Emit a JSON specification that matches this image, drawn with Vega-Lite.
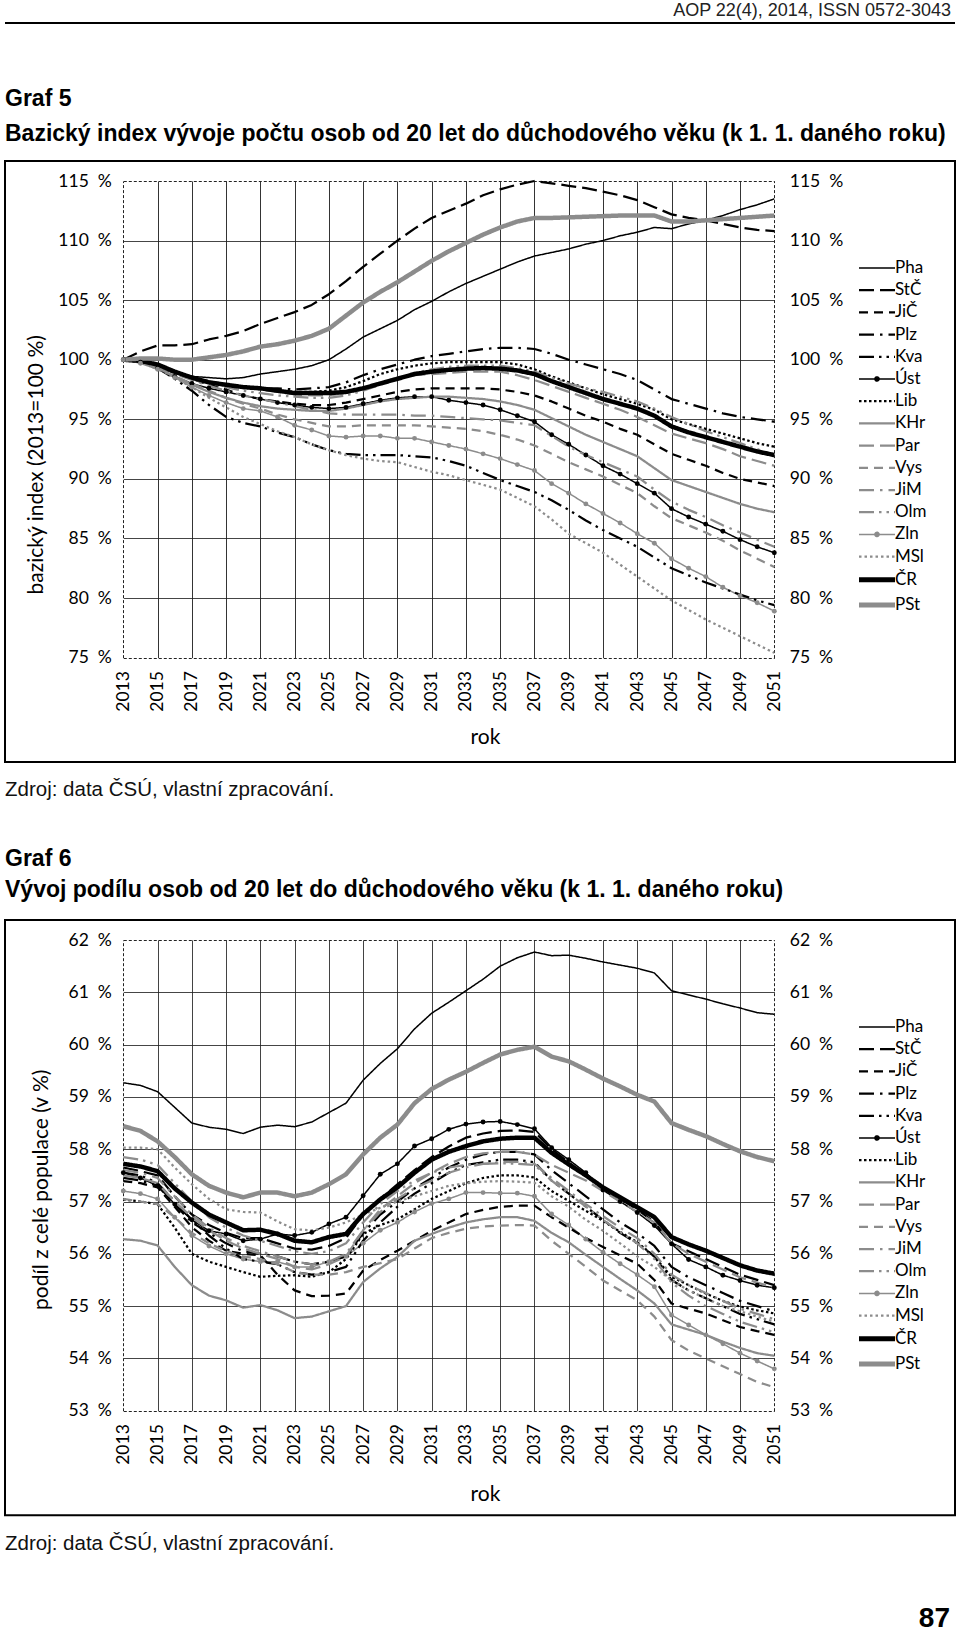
{
"$schema": "https://vega.github.io/schema/vega-lite/v6.json",
"background": "white",
"padding": {"left": 4, "right": 4, "top": 2, "bottom": 0},
"spacing": 16,
"resolve": {"scale": {"color": "independent", "strokeDash": "independent"}},
"config": {"view": {"stroke": null}, "font": "Lato"},
"datasets": {
"g5": [
{"year":2013,"Pha":100,"StČ":100,"JiČ":100,"Plz":100,"Kva":100,"Úst":100,"Lib":100,"KHr":100,"Par":100,"Vys":100,"JiM":100,"Olm":100,"Zln":100,"MSl":100,"ČR":100,"PSt":100},
{"year":2014,"Pha":99.8,"StČ":100.7,"JiČ":99.8,"Plz":99.9,"Kva":99.8,"Úst":99.8,"Lib":99.9,"KHr":99.8,"Par":99.9,"Vys":99.8,"JiM":99.8,"Olm":99.9,"Zln":99.7,"MSl":99.8,"ČR":99.9,"PSt":100.1},
{"year":2015,"Pha":99.4,"StČ":101.2,"JiČ":99.4,"Plz":99.6,"Kva":99.3,"Úst":99.3,"Lib":99.5,"KHr":99.3,"Par":99.6,"Vys":99.2,"JiM":99.4,"Olm":99.5,"Zln":99.2,"MSl":99.3,"ČR":99.6,"PSt":100.1},
{"year":2016,"Pha":98.9,"StČ":101.2,"JiČ":98.9,"Plz":99.0,"Kva":98.4,"Úst":98.6,"Lib":98.9,"KHr":98.6,"Par":99.0,"Vys":98.6,"JiM":98.8,"Olm":98.9,"Zln":98.5,"MSl":98.5,"ČR":99.0,"PSt":100.0},
{"year":2017,"Pha":98.6,"StČ":101.3,"JiČ":98.4,"Plz":98.5,"Kva":97.4,"Úst":98.0,"Lib":98.4,"KHr":97.9,"Par":98.5,"Vys":98.0,"JiM":98.3,"Olm":98.4,"Zln":97.7,"MSl":97.7,"ČR":98.5,"PSt":100.0},
{"year":2018,"Pha":98.5,"StČ":101.7,"JiČ":97.9,"Plz":98.1,"Kva":96.2,"Úst":97.6,"Lib":98.1,"KHr":97.3,"Par":98.2,"Vys":97.4,"JiM":97.8,"Olm":98.0,"Zln":97.0,"MSl":96.8,"ČR":98.1,"PSt":100.2},
{"year":2019,"Pha":98.4,"StČ":102.0,"JiČ":97.5,"Plz":97.8,"Kva":95.2,"Úst":97.3,"Lib":97.9,"KHr":96.8,"Par":97.9,"Vys":96.8,"JiM":97.4,"Olm":97.7,"Zln":96.4,"MSl":96.0,"ČR":97.9,"PSt":100.4},
{"year":2020,"Pha":98.5,"StČ":102.4,"JiČ":97.0,"Plz":97.7,"Kva":94.7,"Úst":97.0,"Lib":97.7,"KHr":96.4,"Par":97.7,"Vys":96.3,"JiM":97.0,"Olm":97.4,"Zln":95.9,"MSl":95.2,"ČR":97.7,"PSt":100.7},
{"year":2021,"Pha":98.8,"StČ":103.0,"JiČ":96.7,"Plz":97.6,"Kva":94.4,"Úst":96.7,"Lib":97.6,"KHr":96.1,"Par":97.5,"Vys":95.9,"JiM":96.7,"Olm":97.2,"Zln":95.7,"MSl":94.6,"ČR":97.6,"PSt":101.1},
{"year":2022,"Pha":99.0,"StČ":103.5,"JiČ":96.5,"Plz":97.6,"Kva":93.9,"Úst":96.4,"Lib":97.4,"KHr":95.9,"Par":97.3,"Vys":95.4,"JiM":96.4,"Olm":97.0,"Zln":95.2,"MSl":94.0,"ČR":97.4,"PSt":101.3},
{"year":2023,"Pha":99.2,"StČ":104.0,"JiČ":96.3,"Plz":97.5,"Kva":93.5,"Úst":96.2,"Lib":97.3,"KHr":95.8,"Par":97.1,"Vys":95.0,"JiM":96.1,"Olm":96.9,"Zln":94.5,"MSl":93.5,"ČR":97.2,"PSt":101.6},
{"year":2024,"Pha":99.5,"StČ":104.6,"JiČ":96.2,"Plz":97.6,"Kva":92.9,"Úst":96.0,"Lib":97.3,"KHr":95.7,"Par":97.0,"Vys":94.7,"JiM":95.8,"Olm":96.8,"Zln":94.1,"MSl":92.9,"ČR":97.2,"PSt":102.0},
{"year":2025,"Pha":100.0,"StČ":105.5,"JiČ":96.2,"Plz":97.7,"Kva":92.4,"Úst":95.9,"Lib":97.4,"KHr":95.7,"Par":97.0,"Vys":94.4,"JiM":95.5,"Olm":96.8,"Zln":93.6,"MSl":92.4,"ČR":97.2,"PSt":102.6},
{"year":2026,"Pha":100.9,"StČ":106.6,"JiČ":96.4,"Plz":98.1,"Kva":92.1,"Úst":96.0,"Lib":97.7,"KHr":95.9,"Par":97.2,"Vys":94.4,"JiM":95.4,"Olm":97.0,"Zln":93.5,"MSl":92.0,"ČR":97.3,"PSt":103.7},
{"year":2027,"Pha":101.9,"StČ":107.8,"JiČ":96.7,"Plz":98.7,"Kva":92.0,"Úst":96.3,"Lib":98.2,"KHr":96.2,"Par":97.6,"Vys":94.5,"JiM":95.4,"Olm":97.4,"Zln":93.6,"MSl":91.7,"ČR":97.6,"PSt":104.8},
{"year":2028,"Pha":102.6,"StČ":108.9,"JiČ":97.0,"Plz":99.2,"Kva":92.0,"Úst":96.6,"Lib":98.8,"KHr":96.5,"Par":98.1,"Vys":94.5,"JiM":95.4,"Olm":97.9,"Zln":93.6,"MSl":91.5,"ČR":98.0,"PSt":105.7},
{"year":2029,"Pha":103.3,"StČ":110.0,"JiČ":97.3,"Plz":99.6,"Kva":92.0,"Úst":96.8,"Lib":99.2,"KHr":96.7,"Par":98.5,"Vys":94.5,"JiM":95.4,"Olm":98.4,"Zln":93.4,"MSl":91.4,"ČR":98.4,"PSt":106.5},
{"year":2030,"Pha":104.2,"StČ":111.0,"JiČ":97.5,"Plz":100.0,"Kva":91.9,"Úst":96.9,"Lib":99.5,"KHr":96.8,"Par":98.7,"Vys":94.5,"JiM":95.3,"Olm":98.9,"Zln":93.4,"MSl":91.0,"ČR":98.8,"PSt":107.4},
{"year":2031,"Pha":104.9,"StČ":111.9,"JiČ":97.6,"Plz":100.3,"Kva":91.8,"Úst":96.9,"Lib":99.7,"KHr":96.9,"Par":98.8,"Vys":94.4,"JiM":95.3,"Olm":99.2,"Zln":93.1,"MSl":90.6,"ČR":99.0,"PSt":108.3},
{"year":2032,"Pha":105.7,"StČ":112.5,"JiČ":97.6,"Plz":100.5,"Kva":91.5,"Úst":96.6,"Lib":99.8,"KHr":96.9,"Par":98.9,"Vys":94.3,"JiM":95.2,"Olm":99.4,"Zln":92.8,"MSl":90.3,"ČR":99.15,"PSt":109.1},
{"year":2033,"Pha":106.4,"StČ":113.1,"JiČ":97.6,"Plz":100.7,"Kva":91.1,"Úst":96.4,"Lib":99.8,"KHr":96.8,"Par":99.0,"Vys":94.2,"JiM":95.1,"Olm":99.5,"Zln":92.5,"MSl":89.9,"ČR":99.25,"PSt":109.8},
{"year":2034,"Pha":107.0,"StČ":113.8,"JiČ":97.6,"Plz":100.9,"Kva":90.5,"Úst":96.2,"Lib":99.8,"KHr":96.7,"Par":99.0,"Vys":94.0,"JiM":95.0,"Olm":99.5,"Zln":92.1,"MSl":89.5,"ČR":99.3,"PSt":110.5},
{"year":2035,"Pha":107.6,"StČ":114.3,"JiČ":97.5,"Plz":101.0,"Kva":89.9,"Úst":95.8,"Lib":99.8,"KHr":96.5,"Par":99.0,"Vys":93.7,"JiM":94.9,"Olm":99.5,"Zln":91.7,"MSl":89.1,"ČR":99.25,"PSt":111.1},
{"year":2036,"Pha":108.2,"StČ":114.7,"JiČ":97.3,"Plz":101.0,"Kva":89.4,"Úst":95.3,"Lib":99.6,"KHr":96.2,"Par":98.7,"Vys":93.3,"JiM":94.7,"Olm":99.3,"Zln":91.2,"MSl":88.4,"ČR":99.1,"PSt":111.6},
{"year":2037,"Pha":108.7,"StČ":115.0,"JiČ":97.0,"Plz":100.9,"Kva":88.9,"Úst":94.8,"Lib":99.2,"KHr":95.8,"Par":98.3,"Vys":92.8,"JiM":94.5,"Olm":99.0,"Zln":90.7,"MSl":87.7,"ČR":98.8,"PSt":111.9},
{"year":2038,"Pha":109.0,"StČ":114.8,"JiČ":96.5,"Plz":100.5,"Kva":88.2,"Úst":93.7,"Lib":98.6,"KHr":95.1,"Par":97.8,"Vys":92.1,"JiM":93.6,"Olm":98.5,"Zln":89.6,"MSl":86.6,"ČR":98.2,"PSt":111.9},
{"year":2039,"Pha":109.3,"StČ":114.6,"JiČ":95.9,"Plz":100.0,"Kva":87.4,"Úst":92.9,"Lib":98.1,"KHr":94.4,"Par":97.3,"Vys":91.4,"JiM":92.7,"Olm":98.0,"Zln":88.8,"MSl":85.4,"ČR":97.7,"PSt":111.95},
{"year":2040,"Pha":109.7,"StČ":114.4,"JiČ":95.3,"Plz":99.6,"Kva":86.5,"Úst":92.0,"Lib":97.6,"KHr":93.7,"Par":96.8,"Vys":90.8,"JiM":92.0,"Olm":97.6,"Zln":87.9,"MSl":84.6,"ČR":97.2,"PSt":112.0},
{"year":2041,"Pha":110.0,"StČ":114.1,"JiČ":94.8,"Plz":99.2,"Kva":85.7,"Úst":91.1,"Lib":97.1,"KHr":93.1,"Par":96.3,"Vys":90.2,"JiM":91.4,"Olm":97.3,"Zln":87.1,"MSl":83.8,"ČR":96.7,"PSt":112.05},
{"year":2042,"Pha":110.4,"StČ":113.8,"JiČ":94.2,"Plz":98.8,"Kva":85.0,"Úst":90.4,"Lib":96.7,"KHr":92.5,"Par":95.8,"Vys":89.5,"JiM":90.8,"Olm":96.9,"Zln":86.3,"MSl":82.8,"ČR":96.3,"PSt":112.1},
{"year":2043,"Pha":110.7,"StČ":113.4,"JiČ":93.7,"Plz":98.3,"Kva":84.3,"Úst":89.6,"Lib":96.3,"KHr":91.9,"Par":95.2,"Vys":88.8,"JiM":90.2,"Olm":96.5,"Zln":85.4,"MSl":81.8,"ČR":95.9,"PSt":112.1},
{"year":2044,"Pha":111.1,"StČ":112.8,"JiČ":92.9,"Plz":97.5,"Kva":83.4,"Úst":88.8,"Lib":95.8,"KHr":90.9,"Par":94.5,"Vys":87.7,"JiM":89.1,"Olm":95.9,"Zln":84.6,"MSl":80.8,"ČR":95.3,"PSt":112.1},
{"year":2045,"Pha":111.0,"StČ":112.2,"JiČ":92.1,"Plz":96.7,"Kva":82.5,"Úst":87.5,"Lib":95.0,"KHr":89.9,"Par":93.8,"Vys":86.7,"JiM":88.1,"Olm":95.2,"Zln":83.3,"MSl":79.8,"ČR":94.4,"PSt":111.6},
{"year":2046,"Pha":111.4,"StČ":111.9,"JiČ":91.6,"Plz":96.3,"Kva":81.9,"Úst":86.8,"Lib":94.6,"KHr":89.4,"Par":93.4,"Vys":86.1,"JiM":87.4,"Olm":94.6,"Zln":82.5,"MSl":79.0,"ČR":93.9,"PSt":111.6},
{"year":2047,"Pha":111.7,"StČ":111.7,"JiČ":91.1,"Plz":95.9,"Kva":81.3,"Úst":86.2,"Lib":94.2,"KHr":88.9,"Par":93.0,"Vys":85.5,"JiM":86.8,"Olm":94.0,"Zln":81.8,"MSl":78.2,"ČR":93.5,"PSt":111.7},
{"year":2048,"Pha":112.1,"StČ":111.4,"JiČ":90.5,"Plz":95.5,"Kva":80.8,"Úst":85.6,"Lib":93.8,"KHr":88.4,"Par":92.5,"Vys":84.8,"JiM":86.1,"Olm":93.5,"Zln":80.9,"MSl":77.5,"ČR":93.1,"PSt":111.8},
{"year":2049,"Pha":112.6,"StČ":111.1,"JiČ":90.0,"Plz":95.2,"Kva":80.3,"Úst":84.9,"Lib":93.4,"KHr":87.9,"Par":91.9,"Vys":84.0,"JiM":85.5,"Olm":93.0,"Zln":80.2,"MSl":76.8,"ČR":92.7,"PSt":111.9},
{"year":2050,"Pha":113.0,"StČ":110.9,"JiČ":89.7,"Plz":95.0,"Kva":79.8,"Úst":84.3,"Lib":93.0,"KHr":87.5,"Par":91.5,"Vys":83.3,"JiM":84.9,"Olm":92.5,"Zln":79.6,"MSl":76.1,"ČR":92.3,"PSt":112.0},
{"year":2051,"Pha":113.5,"StČ":110.8,"JiČ":89.4,"Plz":94.8,"Kva":79.4,"Úst":83.8,"Lib":92.7,"KHr":87.2,"Par":91.1,"Vys":82.6,"JiM":84.3,"Olm":92.0,"Zln":78.9,"MSl":75.4,"ČR":92.0,"PSt":112.1}
],
"g6": [
{"year":2013,"Pha":59.27,"StČ":57.65,"JiČ":57.39,"Plz":57.45,"Kva":57.55,"Úst":57.55,"Lib":57.04,"KHr":56.28,"Par":57.5,"Vys":57.05,"JiM":57.6,"Olm":57.85,"Zln":57.2,"MSl":58.03,"ČR":57.72,"PSt":58.44},
{"year":2014,"Pha":59.22,"StČ":57.58,"JiČ":57.35,"Plz":57.4,"Kva":57.5,"Úst":57.45,"Lib":57.0,"KHr":56.25,"Par":57.45,"Vys":57.0,"JiM":57.55,"Olm":57.8,"Zln":57.15,"MSl":58.03,"ČR":57.67,"PSt":58.35},
{"year":2015,"Pha":59.1,"StČ":57.5,"JiČ":57.27,"Plz":57.3,"Kva":57.35,"Úst":57.3,"Lib":56.95,"KHr":56.16,"Par":57.35,"Vys":56.95,"JiM":57.45,"Olm":57.7,"Zln":57.05,"MSl":58.0,"ČR":57.58,"PSt":58.15},
{"year":2016,"Pha":58.8,"StČ":57.1,"JiČ":56.9,"Plz":56.95,"Kva":57.0,"Úst":56.95,"Lib":56.5,"KHr":55.75,"Par":57.0,"Vys":56.7,"JiM":57.1,"Olm":57.35,"Zln":56.7,"MSl":57.65,"ČR":57.25,"PSt":57.85},
{"year":2017,"Pha":58.5,"StČ":56.75,"JiČ":56.51,"Plz":56.6,"Kva":56.65,"Úst":56.65,"Lib":56.0,"KHr":55.4,"Par":56.7,"Vys":56.4,"JiM":56.75,"Olm":57.0,"Zln":56.35,"MSl":57.33,"ČR":56.98,"PSt":57.52},
{"year":2018,"Pha":58.42,"StČ":56.55,"JiČ":56.25,"Plz":56.4,"Kva":56.35,"Úst":56.44,"Lib":55.85,"KHr":55.2,"Par":56.45,"Vys":56.2,"JiM":56.5,"Olm":56.7,"Zln":56.15,"MSl":57.05,"ČR":56.75,"PSt":57.3},
{"year":2019,"Pha":58.38,"StČ":56.4,"JiČ":56.06,"Plz":56.2,"Kva":56.1,"Úst":56.38,"Lib":55.75,"KHr":55.11,"Par":56.25,"Vys":56.05,"JiM":56.3,"Olm":56.5,"Zln":56.0,"MSl":56.85,"ČR":56.6,"PSt":57.17},
{"year":2020,"Pha":58.3,"StČ":56.3,"JiČ":56.0,"Plz":56.05,"Kva":55.9,"Úst":56.25,"Lib":55.65,"KHr":54.97,"Par":56.1,"Vys":55.95,"JiM":56.15,"Olm":56.35,"Zln":55.9,"MSl":56.8,"ČR":56.45,"PSt":57.08},
{"year":2021,"Pha":58.42,"StČ":56.3,"JiČ":55.97,"Plz":56.0,"Kva":55.85,"Úst":56.28,"Lib":55.56,"KHr":55.02,"Par":56.0,"Vys":55.9,"JiM":56.05,"Olm":56.25,"Zln":55.85,"MSl":56.79,"ČR":56.46,"PSt":57.17},
{"year":2022,"Pha":58.46,"StČ":56.2,"JiČ":55.6,"Plz":55.95,"Kva":55.8,"Úst":56.38,"Lib":55.58,"KHr":54.92,"Par":55.9,"Vys":55.8,"JiM":55.95,"Olm":56.15,"Zln":55.85,"MSl":56.62,"ČR":56.38,"PSt":57.17},
{"year":2023,"Pha":58.43,"StČ":56.1,"JiČ":55.3,"Plz":55.85,"Kva":55.65,"Úst":56.35,"Lib":55.59,"KHr":54.77,"Par":55.75,"Vys":55.65,"JiM":55.85,"Olm":56.05,"Zln":55.75,"MSl":56.47,"ČR":56.25,"PSt":57.1},
{"year":2024,"Pha":58.52,"StČ":56.08,"JiČ":55.19,"Plz":55.8,"Kva":55.6,"Úst":56.41,"Lib":55.56,"KHr":54.8,"Par":55.7,"Vys":55.6,"JiM":55.8,"Olm":56.0,"Zln":55.75,"MSl":56.45,"ČR":56.22,"PSt":57.17},
{"year":2025,"Pha":58.7,"StČ":56.15,"JiČ":55.2,"Plz":55.85,"Kva":55.65,"Úst":56.57,"Lib":55.65,"KHr":54.9,"Par":55.8,"Vys":55.6,"JiM":55.85,"Olm":56.05,"Zln":55.85,"MSl":56.5,"ČR":56.32,"PSt":57.33},
{"year":2026,"Pha":58.88,"StČ":56.3,"JiČ":55.24,"Plz":55.95,"Kva":55.75,"Úst":56.7,"Lib":55.9,"KHr":55.0,"Par":55.95,"Vys":55.65,"JiM":56.0,"Olm":56.2,"Zln":55.95,"MSl":56.6,"ČR":56.38,"PSt":57.52},
{"year":2027,"Pha":59.32,"StČ":56.75,"JiČ":55.68,"Plz":56.4,"Kva":56.25,"Úst":57.11,"Lib":56.38,"KHr":55.46,"Par":56.45,"Vys":55.75,"JiM":56.45,"Olm":56.6,"Zln":56.2,"MSl":56.75,"ČR":56.76,"PSt":57.9},
{"year":2028,"Pha":59.64,"StČ":57.05,"JiČ":55.88,"Plz":56.75,"Kva":56.6,"Úst":57.52,"Lib":56.55,"KHr":55.72,"Par":56.85,"Vys":55.82,"JiM":56.8,"Olm":56.95,"Zln":56.45,"MSl":56.88,"ČR":57.04,"PSt":58.22},
{"year":2029,"Pha":59.92,"StČ":57.33,"JiČ":56.06,"Plz":57.0,"Kva":56.9,"Úst":57.72,"Lib":56.66,"KHr":55.94,"Par":57.1,"Vys":55.9,"JiM":57.05,"Olm":57.2,"Zln":56.6,"MSl":57.0,"ČR":57.27,"PSt":58.47},
{"year":2030,"Pha":60.3,"StČ":57.6,"JiČ":56.25,"Plz":57.25,"Kva":57.15,"Úst":58.06,"Lib":56.85,"KHr":56.25,"Par":57.35,"Vys":56.1,"JiM":57.25,"Olm":57.4,"Zln":56.8,"MSl":57.1,"ČR":57.55,"PSt":58.88},
{"year":2031,"Pha":60.6,"StČ":57.85,"JiČ":56.44,"Plz":57.45,"Kva":57.35,"Úst":58.2,"Lib":57.05,"KHr":56.38,"Par":57.55,"Vys":56.3,"JiM":57.4,"Olm":57.55,"Zln":56.96,"MSl":57.2,"ČR":57.8,"PSt":59.15},
{"year":2032,"Pha":60.81,"StČ":58.05,"JiČ":56.6,"Plz":57.65,"Kva":57.55,"Úst":58.38,"Lib":57.2,"KHr":56.5,"Par":57.72,"Vys":56.4,"JiM":57.55,"Olm":57.65,"Zln":57.05,"MSl":57.3,"ČR":57.95,"PSt":59.33},
{"year":2033,"Pha":61.03,"StČ":58.22,"JiČ":56.76,"Plz":57.8,"Kva":57.7,"Úst":58.48,"Lib":57.35,"KHr":56.6,"Par":57.85,"Vys":56.48,"JiM":57.65,"Olm":57.7,"Zln":57.17,"MSl":57.35,"ČR":58.06,"PSt":59.48},
{"year":2034,"Pha":61.25,"StČ":58.3,"JiČ":56.84,"Plz":57.9,"Kva":57.75,"Úst":58.52,"Lib":57.45,"KHr":56.66,"Par":57.92,"Vys":56.52,"JiM":57.72,"Olm":57.72,"Zln":57.17,"MSl":57.38,"ČR":58.15,"PSt":59.65},
{"year":2035,"Pha":61.5,"StČ":58.35,"JiČ":56.9,"Plz":57.95,"Kva":57.8,"Úst":58.53,"Lib":57.5,"KHr":56.7,"Par":57.95,"Vys":56.54,"JiM":57.75,"Olm":57.73,"Zln":57.16,"MSl":57.39,"ČR":58.2,"PSt":59.81},
{"year":2036,"Pha":61.66,"StČ":58.36,"JiČ":56.92,"Plz":57.95,"Kva":57.8,"Úst":58.47,"Lib":57.5,"KHr":56.7,"Par":57.95,"Vys":56.55,"JiM":57.76,"Olm":57.72,"Zln":57.16,"MSl":57.38,"ČR":58.22,"PSt":59.9},
{"year":2037,"Pha":61.77,"StČ":58.33,"JiČ":56.92,"Plz":57.9,"Kva":57.75,"Úst":58.39,"Lib":57.46,"KHr":56.63,"Par":57.9,"Vys":56.54,"JiM":57.72,"Olm":57.7,"Zln":57.1,"MSl":57.36,"ČR":58.22,"PSt":59.96},
{"year":2038,"Pha":61.7,"StČ":58.0,"JiČ":56.7,"Plz":57.6,"Kva":57.4,"Úst":58.03,"Lib":57.2,"KHr":56.4,"Par":57.7,"Vys":56.25,"JiM":57.45,"Olm":57.4,"Zln":56.76,"MSl":57.1,"ČR":57.93,"PSt":59.77},
{"year":2039,"Pha":61.71,"StČ":57.75,"JiČ":56.5,"Plz":57.35,"Kva":57.15,"Úst":57.8,"Lib":57.01,"KHr":56.22,"Par":57.55,"Vys":56.0,"JiM":57.2,"Olm":57.15,"Zln":56.55,"MSl":56.9,"ČR":57.71,"PSt":59.68},
{"year":2040,"Pha":61.65,"StČ":57.5,"JiČ":56.3,"Plz":57.1,"Kva":56.9,"Úst":57.55,"Lib":56.82,"KHr":55.98,"Par":57.4,"Vys":55.75,"JiM":56.95,"Olm":56.9,"Zln":56.28,"MSl":56.65,"ČR":57.5,"PSt":59.52},
{"year":2041,"Pha":61.58,"StČ":57.28,"JiČ":56.13,"Plz":56.85,"Kva":56.65,"Úst":57.22,"Lib":56.63,"KHr":55.75,"Par":57.2,"Vys":55.49,"JiM":56.72,"Olm":56.65,"Zln":56.03,"MSl":56.44,"ČR":57.27,"PSt":59.35},
{"year":2042,"Pha":61.52,"StČ":57.05,"JiČ":55.97,"Plz":56.6,"Kva":56.4,"Úst":57.0,"Lib":56.42,"KHr":55.52,"Par":57.0,"Vys":55.3,"JiM":56.5,"Olm":56.42,"Zln":55.81,"MSl":56.2,"ČR":57.08,"PSt":59.2},
{"year":2043,"Pha":61.46,"StČ":56.85,"JiČ":55.81,"Plz":56.4,"Kva":56.2,"Úst":56.79,"Lib":56.22,"KHr":55.3,"Par":56.8,"Vys":55.11,"JiM":56.3,"Olm":56.2,"Zln":55.6,"MSl":55.95,"ČR":56.89,"PSt":59.04},
{"year":2044,"Pha":61.37,"StČ":56.6,"JiČ":55.5,"Plz":56.15,"Kva":55.95,"Úst":56.54,"Lib":55.95,"KHr":55.05,"Par":56.6,"Vys":54.8,"JiM":56.0,"Olm":55.9,"Zln":55.37,"MSl":55.75,"ČR":56.7,"PSt":58.91},
{"year":2045,"Pha":61.03,"StČ":56.2,"JiČ":55.05,"Plz":55.75,"Kva":55.5,"Úst":56.19,"Lib":55.56,"KHr":54.65,"Par":56.2,"Vys":54.35,"JiM":55.6,"Olm":55.45,"Zln":54.83,"MSl":55.49,"ČR":56.32,"PSt":58.5},
{"year":2046,"Pha":60.95,"StČ":56.05,"JiČ":54.95,"Plz":55.55,"Kva":55.3,"Úst":55.89,"Lib":55.4,"KHr":54.55,"Par":56.0,"Vys":54.15,"JiM":55.4,"Olm":55.2,"Zln":54.64,"MSl":55.3,"ČR":56.18,"PSt":58.37},
{"year":2047,"Pha":60.87,"StČ":55.9,"JiČ":54.86,"Plz":55.4,"Kva":55.15,"Úst":55.75,"Lib":55.24,"KHr":54.45,"Par":55.85,"Vys":54.0,"JiM":55.25,"Olm":55.0,"Zln":54.45,"MSl":55.15,"ČR":56.06,"PSt":58.25},
{"year":2048,"Pha":60.78,"StČ":55.75,"JiČ":54.73,"Plz":55.25,"Kva":55.0,"Úst":55.59,"Lib":55.1,"KHr":54.32,"Par":55.7,"Vys":53.85,"JiM":55.1,"Olm":54.85,"Zln":54.28,"MSl":55.0,"ČR":55.92,"PSt":58.1},
{"year":2049,"Pha":60.7,"StČ":55.6,"JiČ":54.6,"Plz":55.1,"Kva":54.85,"Úst":55.49,"Lib":54.99,"KHr":54.2,"Par":55.55,"Vys":53.7,"JiM":54.95,"Olm":54.7,"Zln":54.1,"MSl":54.9,"ČR":55.78,"PSt":57.96},
{"year":2050,"Pha":60.61,"StČ":55.5,"JiČ":54.52,"Plz":55.0,"Kva":54.75,"Úst":55.4,"Lib":54.92,"KHr":54.1,"Par":55.45,"Vys":53.55,"JiM":54.85,"Olm":54.6,"Zln":53.95,"MSl":54.8,"ČR":55.68,"PSt":57.85},
{"year":2051,"Pha":60.58,"StČ":55.4,"JiČ":54.45,"Plz":54.9,"Kva":54.65,"Úst":55.35,"Lib":54.86,"KHr":54.05,"Par":55.35,"Vys":53.45,"JiM":54.75,"Olm":54.5,"Zln":53.8,"MSl":54.7,"ČR":55.62,"PSt":57.77}
]
},
"vconcat": [
{
"data": {"values": []}, "mark": "point", "width": 950, "height": 2,
"view": {"fill": "#000", "stroke": null},
"title": {"text": "AOP 22(4), 2014, ISSN 0572-3043", "anchor": "end", "frame": "group", "offset": 2, "font": "Liberation Sans", "fontSize": 18, "fontWeight": "normal", "color": "#222", "dx": -4}
},
{"data": {"values": []}, "mark": "point", "width": 950, "height": 30.8},
{
"width": 950, "height": 601,
"view": {"stroke": "#000", "strokeWidth": 2},
"title": {"text": "Graf 5", "subtitle": "Bazický index vývoje počtu osob od 20 let do důchodového věku (k 1. 1. daného roku)", "anchor": "start", "frame": "group", "offset": 15, "subtitlePadding": 12, "font": "Liberation Sans", "fontSize": 23, "fontWeight": "bold", "color": "#000", "subtitleFont": "Liberation Sans", "subtitleFontSize": 23, "subtitleFontWeight": "bold", "subtitleColor": "#000"},
"data": {"name": "g5"},
"transform": [{"fold": ["Pha","StČ","JiČ","Plz","Kva","Úst","Lib","KHr","Par","Vys","JiM","Olm","Zln","MSl","ČR","PSt"], "as": ["region", "value"]}],
"layer": [
{
"transform": [{"filter": {"field": "region", "oneOf": ["Pha", "Úst", "Zln"]}}],
"mark": {"type": "line", "strokeWidth": 1.5, "strokeCap": "butt", "strokeJoin": "round"},
"encoding": {
"x": {"field": "year", "type": "quantitative", "scale": {"domain": [2013, 2051], "range": [118.3, 769.3], "nice": false, "zero": false},
 "axis": {"orient": "bottom", "values": [2013,2015,2017,2019,2021,2023,2025,2027,2029,2031,2033,2035,2037,2039,2041,2043,2045,2047,2049,2051], "format": "d", "labelAngle": -90, "labelFont": "Lato", "labelFontSize": 17.5, "labelColor": "#000", "labelPadding": 13, "labelOverlap": false, "labelFlush": false, "labelBound": false, "ticks": false, "tickSize": 0, "domain": false, "grid": false, "offset": -104.4, "title": "rok", "titleFont": "Lato", "titleFontSize": 21, "titleFontWeight": "normal", "titleColor": "#000", "titleX": 480, "titleY": 79.4, "titleAlign": "center", "titleBaseline": "middle", "titleAngle": 0}},
"y": {"field": "value", "type": "quantitative", "scale": {"domain": [75, 115], "range": [496.6, 20], "nice": false, "zero": false},
 "axis": {"orient": "left", "offset": -118.3, "values": [75,80,85,90,95,100,105,110,115], "labelExpr": "datum.value + '\u00a0\u00a0%'", "labelFont": "Lato", "labelFontSize": 17.5, "labelColor": "#000", "labelPadding": 12, "labelOverlap": false, "labelFlush": false, "labelBound": false, "ticks": false, "tickSize": 0, "domain": false, "grid": true, "gridColor": "#222", "gridWidth": 1, "gridOpacity": 1, "gridDash": {"condition": {"test": "datum.value === 75 || datum.value === 115", "value": [3, 2]}, "value": [1, 0]}, "title": "bazický index (2013=100 %)", "titleFont": "Lato", "titleFontSize": 21, "titleFontWeight": "normal", "titleColor": "#000", "titleAngle": -90, "titleX": -86.7, "titleY": 303.3, "titleAlign": "center", "titleBaseline": "middle"}},
"color": {"field": "region", "type": "nominal", "scale": {"domain": ["Pha","StČ","JiČ","Plz","Kva","Úst","Lib","KHr","Par","Vys","JiM","Olm","Zln","MSl","ČR","PSt"], "range": ["#000","#000","#000","#000","#000","#000","#000","#8c8c8c","#8c8c8c","#8c8c8c","#8c8c8c","#8c8c8c","#8c8c8c","#8c8c8c","#000","#8c8c8c"]},
 "legend": {"orient": "none", "legendX": 854, "legendY": 98.5, "title": null, "padding": 0, "offset": 0, "symbolType": "M-3,0H3", "symbolSize": 144, "symbolStrokeWidth": 2, "symbolOffset": 9.5, "labelFont": "Lato", "labelFontSize": 17, "labelColor": "#000", "labelOffset": 9.5, "labelLimit": 0, "rowPadding": 4.2,
  "encode": {"symbols": {"update": {"strokeWidth": {"signal": "(datum.value === 'ČR' || datum.value === 'PSt') ? 5 : ((datum.value === 'Pha' || datum.value === 'Úst' || datum.value === 'Zln') ? 1.5 : 2.25)"}, "shape": {"signal": "(datum.value === 'Úst' || datum.value === 'Zln') ? 'M-3,0H3M0.35,0A0.35,0.35,0,1,1,-0.35,0A0.35,0.35,0,1,1,0.35,0Z' : 'M-3,0H3'"}, "fill": {"signal": "datum.value === 'Úst' ? '#000' : (datum.value === 'Zln' ? '#8c8c8c' : 'transparent')"}}}}}},
"strokeDash": {"field": "region", "type": "nominal", "scale": {"domain": ["Pha","StČ","JiČ","Plz","Kva","Úst","Lib","KHr","Par","Vys","JiM","Olm","Zln","MSl","ČR","PSt"], "range": [[1,0],[15,6],[9,6],[15,6,2.5,6],[15,5,2.5,5,2.5,5],[1,0],[2.5,2.5],[1,0],[15,6],[9,6],[15,6,2.5,6],[15,5,2.5,5,2.5,5],[1,0],[2.5,3],[1,0],[1,0]]},
 "legend": {"orient": "none", "legendX": 854, "legendY": 98.5, "title": null, "padding": 0, "offset": 0, "symbolType": "M-3,0H3", "symbolSize": 144, "symbolStrokeWidth": 2, "symbolOffset": 9.5, "labelFont": "Lato", "labelFontSize": 17, "labelColor": "#000", "labelOffset": 9.5, "labelLimit": 0, "rowPadding": 4.2,
  "encode": {"symbols": {"update": {"strokeWidth": {"signal": "(datum.value === 'ČR' || datum.value === 'PSt') ? 5 : ((datum.value === 'Pha' || datum.value === 'Úst' || datum.value === 'Zln') ? 1.5 : 2.25)"}, "shape": {"signal": "(datum.value === 'Úst' || datum.value === 'Zln') ? 'M-3,0H3M0.35,0A0.35,0.35,0,1,1,-0.35,0A0.35,0.35,0,1,1,0.35,0Z' : 'M-3,0H3'"}, "fill": {"signal": "datum.value === 'Úst' ? '#000' : (datum.value === 'Zln' ? '#8c8c8c' : 'transparent')"}}}}}}
}
},
{
"transform": [{"filter": {"field": "region", "oneOf": ["StČ","JiČ","Plz","Kva","Lib","KHr","Par","Vys","JiM","Olm","MSl"]}}],
"mark": {"type": "line", "strokeWidth": 2.25, "strokeCap": "butt", "strokeJoin": "round"},
"encoding": {
"x": {"field": "year", "type": "quantitative", "scale": {"domain": [2013, 2051], "range": [118.3, 769.3], "nice": false, "zero": false},
 "axis": {"orient": "top", "offset": 0, "values": [2013,2015,2017,2019,2021,2023,2025,2027,2029,2031,2033,2035,2037,2039,2041,2043,2045,2047,2049,2051], "labels": false, "ticks": false, "tickSize": 0, "domain": false, "title": null, "grid": true, "gridColor": "#222", "gridWidth": 1, "gridOpacity": 1, "gridDash": {"condition": {"test": "datum.value === 2013 || datum.value === 2051", "value": [3, 2]}, "value": [1, 0]}}},
"y": {"field": "value", "type": "quantitative", "scale": {"domain": [75, 115], "range": [496.6, 20], "nice": false, "zero": false}, "axis": null},
"color": {"field": "region", "type": "nominal", "legend": null},
"strokeDash": {"field": "region", "type": "nominal", "legend": null}
}
},
{
"transform": [{"filter": {"field": "region", "oneOf": ["ČR", "PSt"]}}],
"mark": {"type": "line", "strokeWidth": 4.5, "strokeCap": "butt", "strokeJoin": "round"},
"encoding": {
"x": {"field": "year", "type": "quantitative", "scale": {"domain": [2013, 2051], "range": [118.3, 769.3], "nice": false, "zero": false}, "axis": null},
"y": {"field": "value", "type": "quantitative", "scale": {"domain": [75, 115], "range": [496.6, 20], "nice": false, "zero": false}, "axis": null},
"color": {"field": "region", "type": "nominal", "legend": null},
"strokeDash": {"field": "region", "type": "nominal", "legend": null}
}
},
{
"transform": [{"filter": {"field": "region", "oneOf": ["Úst", "Zln"]}}],
"mark": {"type": "circle", "size": 24, "opacity": 1},
"encoding": {
"x": {"field": "year", "type": "quantitative", "scale": {"domain": [2013, 2051], "range": [118.3, 769.3], "nice": false, "zero": false}, "axis": null},
"y": {"field": "value", "type": "quantitative", "scale": {"domain": [75, 115], "range": [496.6, 20], "nice": false, "zero": false},
 "axis": {"orient": "right", "offset": -180.7, "values": [75,80,85,90,95,100,105,110,115], "labelExpr": "datum.value + '\u00a0\u00a0%'", "labelFont": "Lato", "labelFontSize": 17.5, "labelColor": "#000", "labelPadding": 15, "labelOverlap": false, "labelFlush": false, "labelBound": false, "ticks": false, "tickSize": 0, "domain": false, "grid": false, "title": null}},
"color": {"field": "region", "type": "nominal", "legend": null}
}
}
],
"resolve": {"axis": {"x": "independent", "y": "independent"}}
},
{
"data": {"values": []}, "mark": "point", "width": 950, "height": 29.8,
"title": {"text": "Zdroj: data ČSÚ, vlastní zpracování.", "anchor": "start", "frame": "group", "offset": 0, "font": "Liberation Sans", "fontSize": 20.5, "fontWeight": "normal", "color": "#111"}
},
{
"width": 950, "height": 595.3,
"view": {"stroke": "#000", "strokeWidth": 2},
"title": {"text": "Graf 6", "subtitle": "Vývoj podílu osob od 20 let do důchodového věku (k 1. 1. daného roku)", "anchor": "start", "frame": "group", "offset": 17.9, "subtitlePadding": 8.5, "font": "Liberation Sans", "fontSize": 23, "fontWeight": "bold", "color": "#000", "subtitleFont": "Liberation Sans", "subtitleFontSize": 23, "subtitleFontWeight": "bold", "subtitleColor": "#000"},
"data": {"name": "g6"},
"transform": [{"fold": ["Pha","StČ","JiČ","Plz","Kva","Úst","Lib","KHr","Par","Vys","JiM","Olm","Zln","MSl","ČR","PSt"], "as": ["region", "value"]}],
"layer": [
{
"transform": [{"filter": {"field": "region", "oneOf": ["Pha", "Úst", "Zln"]}}],
"mark": {"type": "line", "strokeWidth": 1.5, "strokeCap": "butt", "strokeJoin": "round"},
"encoding": {
"x": {"field": "year", "type": "quantitative", "scale": {"domain": [2013, 2051], "range": [118.3, 769.3], "nice": false, "zero": false},
 "axis": {"orient": "bottom", "values": [2013,2015,2017,2019,2021,2023,2025,2027,2029,2031,2033,2035,2037,2039,2041,2043,2045,2047,2049,2051], "format": "d", "labelAngle": -90, "labelFont": "Lato", "labelFontSize": 17.5, "labelColor": "#000", "labelPadding": 13, "labelOverlap": false, "labelFlush": false, "labelBound": false, "ticks": false, "tickSize": 0, "domain": false, "grid": false, "offset": -104.6, "title": "rok", "titleFont": "Lato", "titleFontSize": 21, "titleFontWeight": "normal", "titleColor": "#000", "titleX": 480, "titleY": 83.3, "titleAlign": "center", "titleBaseline": "middle", "titleAngle": 0}},
"y": {"field": "value", "type": "quantitative", "scale": {"domain": [53, 62], "range": [490.7, 20], "nice": false, "zero": false},
 "axis": {"orient": "left", "offset": -118.3, "values": [53,54,55,56,57,58,59,60,61,62], "labelExpr": "datum.value + '\u00a0\u00a0%'", "labelFont": "Lato", "labelFontSize": 17.5, "labelColor": "#000", "labelPadding": 12, "labelOverlap": false, "labelFlush": false, "labelBound": false, "ticks": false, "tickSize": 0, "domain": false, "grid": true, "gridColor": "#222", "gridWidth": 1, "gridOpacity": 1, "gridDash": {"condition": {"test": "datum.value === 53 || datum.value === 62", "value": [3, 2]}, "value": [1, 0]}, "title": "podíl z celé populace (v %)", "titleFont": "Lato", "titleFontSize": 21, "titleFontWeight": "normal", "titleColor": "#000", "titleAngle": -90, "titleX": -81.6, "titleY": 269.3, "titleAlign": "center", "titleBaseline": "middle"}},
"color": {"field": "region", "type": "nominal", "scale": {"domain": ["Pha","StČ","JiČ","Plz","Kva","Úst","Lib","KHr","Par","Vys","JiM","Olm","Zln","MSl","ČR","PSt"], "range": ["#000","#000","#000","#000","#000","#000","#000","#8c8c8c","#8c8c8c","#8c8c8c","#8c8c8c","#8c8c8c","#8c8c8c","#8c8c8c","#000","#8c8c8c"]},
 "legend": {"orient": "none", "legendX": 854, "legendY": 98.5, "title": null, "padding": 0, "offset": 0, "symbolType": "M-3,0H3", "symbolSize": 144, "symbolStrokeWidth": 2, "symbolOffset": 9.5, "labelFont": "Lato", "labelFontSize": 17, "labelColor": "#000", "labelOffset": 9.5, "labelLimit": 0, "rowPadding": 4.2,
  "encode": {"symbols": {"update": {"strokeWidth": {"signal": "(datum.value === 'ČR' || datum.value === 'PSt') ? 5 : ((datum.value === 'Pha' || datum.value === 'Úst' || datum.value === 'Zln') ? 1.5 : 2.25)"}, "shape": {"signal": "(datum.value === 'Úst' || datum.value === 'Zln') ? 'M-3,0H3M0.35,0A0.35,0.35,0,1,1,-0.35,0A0.35,0.35,0,1,1,0.35,0Z' : 'M-3,0H3'"}, "fill": {"signal": "datum.value === 'Úst' ? '#000' : (datum.value === 'Zln' ? '#8c8c8c' : 'transparent')"}}}}}},
"strokeDash": {"field": "region", "type": "nominal", "scale": {"domain": ["Pha","StČ","JiČ","Plz","Kva","Úst","Lib","KHr","Par","Vys","JiM","Olm","Zln","MSl","ČR","PSt"], "range": [[1,0],[15,6],[9,6],[15,6,2.5,6],[15,5,2.5,5,2.5,5],[1,0],[2.5,2.5],[1,0],[15,6],[9,6],[15,6,2.5,6],[15,5,2.5,5,2.5,5],[1,0],[2.5,3],[1,0],[1,0]]},
 "legend": {"orient": "none", "legendX": 854, "legendY": 98.5, "title": null, "padding": 0, "offset": 0, "symbolType": "M-3,0H3", "symbolSize": 144, "symbolStrokeWidth": 2, "symbolOffset": 9.5, "labelFont": "Lato", "labelFontSize": 17, "labelColor": "#000", "labelOffset": 9.5, "labelLimit": 0, "rowPadding": 4.2,
  "encode": {"symbols": {"update": {"strokeWidth": {"signal": "(datum.value === 'ČR' || datum.value === 'PSt') ? 5 : ((datum.value === 'Pha' || datum.value === 'Úst' || datum.value === 'Zln') ? 1.5 : 2.25)"}, "shape": {"signal": "(datum.value === 'Úst' || datum.value === 'Zln') ? 'M-3,0H3M0.35,0A0.35,0.35,0,1,1,-0.35,0A0.35,0.35,0,1,1,0.35,0Z' : 'M-3,0H3'"}, "fill": {"signal": "datum.value === 'Úst' ? '#000' : (datum.value === 'Zln' ? '#8c8c8c' : 'transparent')"}}}}}}
}
},
{
"transform": [{"filter": {"field": "region", "oneOf": ["StČ","JiČ","Plz","Kva","Lib","KHr","Par","Vys","JiM","Olm","MSl"]}}],
"mark": {"type": "line", "strokeWidth": 2.25, "strokeCap": "butt", "strokeJoin": "round"},
"encoding": {
"x": {"field": "year", "type": "quantitative", "scale": {"domain": [2013, 2051], "range": [118.3, 769.3], "nice": false, "zero": false},
 "axis": {"orient": "top", "offset": 0, "values": [2013,2015,2017,2019,2021,2023,2025,2027,2029,2031,2033,2035,2037,2039,2041,2043,2045,2047,2049,2051], "labels": false, "ticks": false, "tickSize": 0, "domain": false, "title": null, "grid": true, "gridColor": "#222", "gridWidth": 1, "gridOpacity": 1, "gridDash": {"condition": {"test": "datum.value === 2013 || datum.value === 2051", "value": [3, 2]}, "value": [1, 0]}}},
"y": {"field": "value", "type": "quantitative", "scale": {"domain": [53, 62], "range": [490.7, 20], "nice": false, "zero": false}, "axis": null},
"color": {"field": "region", "type": "nominal", "legend": null},
"strokeDash": {"field": "region", "type": "nominal", "legend": null}
}
},
{
"transform": [{"filter": {"field": "region", "oneOf": ["ČR", "PSt"]}}],
"mark": {"type": "line", "strokeWidth": 4.5, "strokeCap": "butt", "strokeJoin": "round"},
"encoding": {
"x": {"field": "year", "type": "quantitative", "scale": {"domain": [2013, 2051], "range": [118.3, 769.3], "nice": false, "zero": false}, "axis": null},
"y": {"field": "value", "type": "quantitative", "scale": {"domain": [53, 62], "range": [490.7, 20], "nice": false, "zero": false}, "axis": null},
"color": {"field": "region", "type": "nominal", "legend": null},
"strokeDash": {"field": "region", "type": "nominal", "legend": null}
}
},
{
"transform": [{"filter": {"field": "region", "oneOf": ["Úst", "Zln"]}}],
"mark": {"type": "circle", "size": 24, "opacity": 1},
"encoding": {
"x": {"field": "year", "type": "quantitative", "scale": {"domain": [2013, 2051], "range": [118.3, 769.3], "nice": false, "zero": false}, "axis": null},
"y": {"field": "value", "type": "quantitative", "scale": {"domain": [53, 62], "range": [490.7, 20], "nice": false, "zero": false},
 "axis": {"orient": "right", "offset": -180.7, "values": [53,54,55,56,57,58,59,60,61,62], "labelExpr": "datum.value + '\u00a0\u00a0%'", "labelFont": "Lato", "labelFontSize": 17.5, "labelColor": "#000", "labelPadding": 15, "labelOverlap": false, "labelFlush": false, "labelBound": false, "ticks": false, "tickSize": 0, "domain": false, "grid": false, "title": null}},
"color": {"field": "region", "type": "nominal", "legend": null}
}
}
],
"resolve": {"axis": {"x": "independent", "y": "independent"}}
},
{
"data": {"values": []}, "mark": "point", "width": 950, "height": 35,
"title": {"text": "Zdroj: data ČSÚ, vlastní zpracování.", "anchor": "start", "frame": "group", "offset": 0, "font": "Liberation Sans", "fontSize": 20.5, "fontWeight": "normal", "color": "#111"}
},
{
"data": {"values": []}, "mark": "point", "width": 950, "height": 1,
"title": {"text": "87", "anchor": "end", "frame": "group", "offset": 0, "font": "Liberation Sans", "fontSize": 28, "fontWeight": "bold", "color": "#000", "dx": -5}
}
]
}
